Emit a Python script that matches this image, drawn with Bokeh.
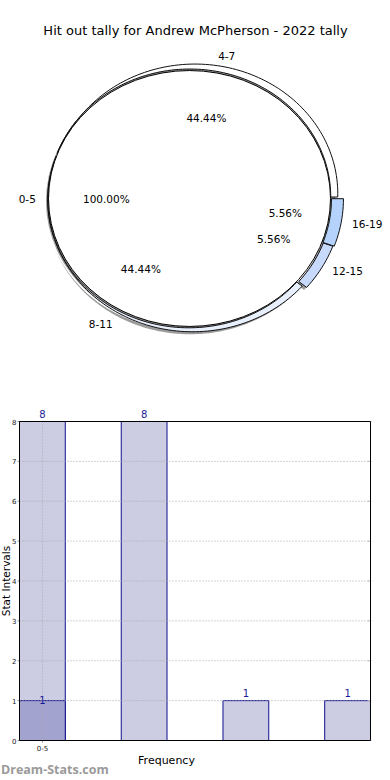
import numpy as np
from bokeh.plotting import figure
from bokeh.models import Range1d, Label
from bokeh.layouts import column
from bokeh.core.properties import value
from bokeh.embed import file_html
from bokeh.resources import INLINE

# ---------------- data ----------------
chart_title = "Hit out tally for Andrew McPherson - 2022 tally"
inner_labels = ["0-5"]
inner_values = [1]
ring_labels = ["4-7", "8-11", "12-15", "16-19"]
ring_values = [8, 8, 1, 1]

bar_first_labels = ["0-5"]
bar_first_values = [1]
bar_labels = ["4-7", "8-11", "12-15", "16-19"]
bar_values = [8, 8, 1, 1]
y_tick_values = [0, 1, 2, 3, 4, 5, 6, 7, 8]
x_axis_title = "Frequency"
y_axis_title = "Stat Intervals"
watermark = "Dream-Stats.com"

# ---------------- styles ----------------
FONT = "DejaVu Sans"
ring_colors = ["#ffffff", "#e9f0fd", "#c7dafb", "#b4d2fb"]
# outer edge of each ring piece: circle (in normalised pie units) with a shifted centre
ring_out_dx = [0.037, 0.028, 0.0, 0.0]
ring_out_dy = [0.026, -0.007, 0.0, 0.0]
ring_out_r = [1.0128, 1.024, 1.072, 1.085]
ring_explode_px = [1.5, 1.5, 1.5, 1.0]
SX, SY = 141.0, 128.0      # px per unit in the pie
PCX, PCY = 189.0, 198.0    # pie centre on the page
W, H1, H2 = 390, 380, 400

# ---------------- pie ----------------
p1 = figure(frame_width=W, frame_height=H1, title=None,
            x_axis_type=None, y_axis_type=None,
            x_range=Range1d(-PCX / SX, (W - PCX) / SX),
            y_range=Range1d((PCY - H1) / SY, PCY / SY),
            min_border=0, toolbar_location=None, output_backend="svg")
p1.grid.visible = False
p1.outline_line_color = None
p1.background_fill_color = "white"


def piece(a0, a1, dx, dy, ro, ex, ey):
    n = max(int(abs(a1 - a0) / (2 * np.pi) * 240), 8)
    t = np.linspace(a0, a1, n)
    ud = np.cos(t) * dx + np.sin(t) * dy
    r = ud + np.sqrt(ro ** 2 - (dx * dx + dy * dy) + ud ** 2)
    r = np.maximum(r, 1.0)
    xs = np.concatenate([r * np.cos(t), np.cos(t[::-1])]) + ex
    ys = np.concatenate([r * np.sin(t), np.sin(t[::-1])]) + ey
    return [float(q) for q in xs], [float(q) for q in ys]


total = float(sum(ring_values))
xs_r, ys_r, xs_s, ys_s, mids = [], [], [], [], []
cum = 0.0
for i, v in enumerate(ring_values):
    a0 = 2 * np.pi * cum / total
    a1 = 2 * np.pi * (cum + v) / total
    cum += v
    m = (a0 + a1) / 2
    mids.append(m)
    ex = ring_explode_px[i] * np.cos(m) / SX
    ey = ring_explode_px[i] * np.sin(m) / SY
    x, y = piece(a0, a1, ring_out_dx[i], ring_out_dy[i], ring_out_r[i], ex, ey)
    xs_r.append(x)
    ys_r.append(y)
    xs_s.append([q - 2.5 / SX for q in x])
    ys_s.append([q - 2.5 / SY for q in y])

# shadows
p1.ellipse(x=[-2.5 / SX], y=[-2.5 / SY], width=[2], height=[2],
           fill_color="#7a7a7a", fill_alpha=0.75, line_color=None)
p1.patches(xs=xs_s, ys=ys_s, fill_color="#7a7a7a", fill_alpha=0.75, line_color=None)
# inner full slice
p1.ellipse(x=[0], y=[0], width=[2], height=[2], fill_color="white", line_color="black", line_width=1)
# ring slices
p1.patches(xs=xs_r, ys=ys_r, fill_color=ring_colors, line_color="#111111", line_width=1)

tfont = dict(text_font=FONT, text_font_size="10.5px", text_color="#000000",
             text_baseline="middle")

LX_L, LX_R, LY = 1.17, 1.09, 1.133      # name-label anchor (normalised)
inner_total = float(sum(inner_values))
cum = 0.0
for lab, v in zip(inner_labels, inner_values):
    m = 2 * np.pi * (cum + v / 2) / inner_total
    cum += v
    c, s = np.cos(m), np.sin(m)
    p1.add_layout(Label(x=float(0.59 * c), y=float(0.59 * s),
                        text=f"{v / inner_total * 100:.2f}%", text_align="center", **tfont))
    lx = LX_L if c >= 0 else LX_R
    p1.add_layout(Label(x=float(lx * c), y=float(LY * s), text=lab,
                        text_align="left" if c >= 0 else "right", **tfont))

for i, (lab, v) in enumerate(zip(ring_labels, ring_values)):
    m = mids[i]
    c, s = np.cos(m), np.sin(m)
    p1.add_layout(Label(x=float(0.69 * c), y=float(0.64 * s),
                        text=f"{v / total * 100:.2f}%", text_align="center", **tfont))
    lx = LX_L if c >= 0 else LX_R
    p1.add_layout(Label(x=float(lx * c), y=float(LY * s), text=lab,
                        text_align="left" if c >= 0 else "right", **tfont))

p1.add_layout(Label(x=(195 - PCX) / SX, y=(PCY - 30) / SY, text=chart_title,
                    text_align="center", text_baseline="middle",
                    text_font=FONT, text_font_size="13px", text_color="#000000"))

# ---------------- bars ----------------
BW = 0.45
n = len(bar_values)
xl, xr = -BW / 2, n - 1 + BW / 2
ymax = max(y_tick_values)
PL, PR, PT, PB = 19, 370, 41, 360          # plot box inside the bar figure (px)
PXX = (PR - PL) / (xr - xl)
PXY = (PB - PT) / ymax

p2 = figure(frame_width=W, frame_height=H2, title=None,
            x_axis_type=None, y_axis_type=None,
            x_range=Range1d(xl - PL / PXX, xr + (W - PR) / PXX),
            y_range=Range1d(-(H2 - PB) / PXY, ymax + PT / PXY),
            min_border=0, toolbar_location=None, output_backend="svg")
p2.grid.visible = False
p2.outline_line_color = None
p2.background_fill_color = "white"

bar_x = list(range(n))
first_x = list(range(len(bar_first_values)))
p2.vbar(x=bar_x, top=bar_values, width=BW, fill_color="#ccccE3", line_color="#10108f", line_width=1)
p2.vbar(x=first_x, top=bar_first_values, width=BW, fill_color="#a3a3cf", line_color="#10108f", line_width=1)

# grid (drawn over the bars)
nt = len(y_tick_values)
p2.segment(x0=[xl] * nt, x1=[xr] * nt, y0=y_tick_values, y1=y_tick_values,
           line_color="#a8a8a8", line_dash="1 2", line_width=1)
p2.segment(x0=first_x, x1=first_x, y0=[0] * len(first_x), y1=[ymax] * len(first_x),
           line_color="#a8a8a8", line_dash="1 2", line_width=1)

# tick marks
p2.segment(x0=[xl - 2 / PXX] * nt, x1=[xl] * nt, y0=y_tick_values, y1=y_tick_values,
           line_color="#999999", line_width=1)
p2.segment(x0=[xr - 3 / PXX] * nt, x1=[xr + 1 / PXX] * nt, y0=y_tick_values, y1=y_tick_values,
           line_color="#bbbbbb", line_width=1)
p2.segment(x0=first_x, x1=first_x, y0=[0] * len(first_x), y1=[-2 / PXY] * len(first_x),
           line_color="#999999", line_width=1)

# frame
p2.quad(left=[xl], right=[xr], bottom=[0], top=[ymax], fill_color=None,
        line_color="#000000", line_width=1)

# tick labels
p2.text(x=[xl - 3 / PXX] * nt, y=y_tick_values,
        text=[str(t) for t in y_tick_values], text_align="right", text_baseline="middle",
        text_font=value(FONT), text_font_size="7px", text_color="#222222")
p2.text(x=first_x, y=[-7.5 / PXY] * len(first_x), text=bar_first_labels,
        text_align="center", text_baseline="middle",
        text_font=value(FONT), text_font_size="7px", text_color="#222222")

# value labels
p2.text(x=bar_x, y=[v + 4 / PXY for v in bar_values], text=[str(v) for v in bar_values],
        text_align="center", text_baseline="bottom",
        text_font=value(FONT), text_font_size="10px", text_color="#1a1a99")
p2.text(x=first_x, y=[v - 3 / PXY for v in bar_first_values], text=[str(v) for v in bar_first_values],
        text_align="center", text_baseline="bottom",
        text_font=value(FONT), text_font_size="10px", text_color="#1a1a99")

# axis titles and watermark
p2.text(x=[xl + (166 - PL) / PXX], y=[-(380 - PB) / PXY], text=[x_axis_title],
        text_align="center", text_baseline="middle",
        text_font=value(FONT), text_font_size="11px", text_color="#000000")
p2.text(x=[xl - (PL - 5.5) / PXX], y=[ymax / 2], text=[y_axis_title], angle=float(np.pi / 2),
        text_align="center", text_baseline="middle",
        text_font=value(FONT), text_font_size="10.5px", text_color="#000000")
p2.text(x=[xl - (PL - 0.5) / PXX], y=[-(389 - PB) / PXY], text=[watermark],
        text_align="left", text_baseline="middle",
        text_font=value("Open Sans"), text_font_style="bold", text_font_size="12.5px",
        text_color="#9a9a9a")

layout = column(p1, p2, spacing=0)

open("out.html", "w").write(file_html(layout, INLINE))
